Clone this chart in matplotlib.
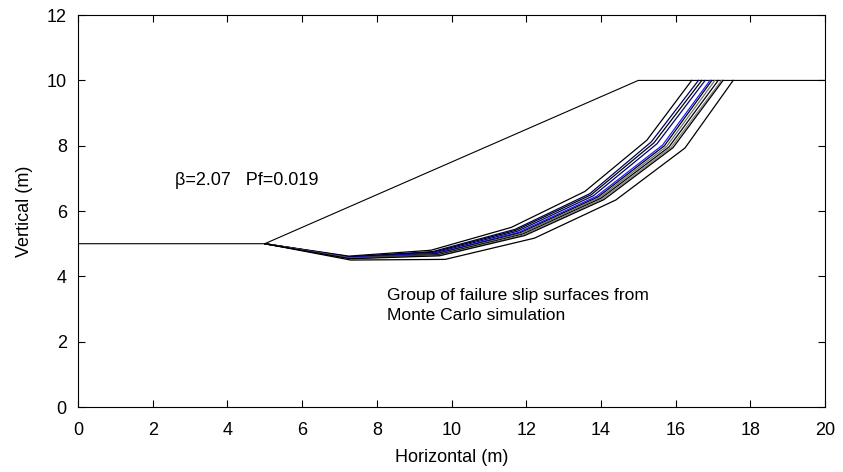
import numpy as np
import matplotlib
matplotlib.use("Agg")
from matplotlib import pyplot as plt

plt.rcParams['font.family'] = ['Liberation Sans', 'DejaVu Sans']

# slope ground profile
ground_x = [0, 5, 15, 20]
ground_y = [5, 5, 10, 10]

# slip surfaces (x, y vertices), top of group first
slip_x = [
    [5, 7.25, 9.45, 11.60, 13.57, 15.23, 16.43],
    [5, 7.27, 9.50, 11.70, 13.70, 15.35, 16.61],
    [5, 7.27, 9.52, 11.72, 13.74, 15.42, 16.70],
    [5, 7.28, 9.55, 11.76, 13.80, 15.50, 16.79],
    [5, 7.28, 9.58, 11.80, 13.88, 15.65, 16.92],
    [5, 7.28, 9.60, 11.83, 13.92, 15.70, 16.97],
    [5, 7.29, 9.62, 11.86, 13.96, 15.76, 17.05],
    [5, 7.29, 9.64, 11.90, 14.00, 15.82, 17.14],
    [5, 7.30, 9.66, 11.93, 14.04, 15.88, 17.23],
    [5, 7.30, 9.68, 11.96, 14.08, 15.93, 17.27],
    [5, 7.30, 9.83, 12.22, 14.40, 16.25, 17.54],
]
slip_y = [
    [5, 4.62, 4.80, 5.50, 6.60, 8.17, 10],
    [5, 4.60, 4.76, 5.44, 6.53, 8.12, 10],
    [5, 4.59, 4.74, 5.41, 6.50, 8.09, 10],
    [5, 4.58, 4.72, 5.38, 6.47, 8.06, 10],
    [5, 4.57, 4.70, 5.35, 6.45, 8.02, 10],
    [5, 4.56, 4.69, 5.33, 6.43, 8.00, 10],
    [5, 4.56, 4.67, 5.31, 6.41, 7.98, 10],
    [5, 4.55, 4.66, 5.29, 6.39, 7.96, 10],
    [5, 4.55, 4.64, 5.27, 6.37, 7.95, 10],
    [5, 4.54, 4.63, 5.25, 6.35, 7.94, 10],
    [5, 4.50, 4.52, 5.17, 6.34, 7.93, 10],
]
slip_colors = ['black', '#000060', 'black', '#000080', '#2020ff', 'black',
               '#707070', 'black', '#808080', 'black', 'black']

fig = plt.figure(figsize=(8.43, 4.72), dpi=100)
ax = fig.add_axes([0.0925, 0.1377, 0.8862, 0.8303])

ax.plot(ground_x, ground_y, color='black', lw=0.8)
for xs, ys, c in zip(slip_x, slip_y, slip_colors):
    ax.plot(xs, ys, color=c, lw=0.9)

ax.text(2.6, 6.95, "β=2.07   Pf=0.019", fontsize=13, va='center')
ax.text(8.27, 3.1, "Group of failure slip surfaces from\nMonte Carlo simulation",
        fontsize=12.5, va='center', linespacing=1.45)

ax.set_xlim(0, 20)
ax.set_ylim(0, 12)
ax.set_xticks(np.arange(0, 21, 2))
ax.set_yticks(np.arange(0, 13, 2))
ax.tick_params(direction='in', top=True, right=True, length=5, labelsize=13)
ax.tick_params(axis='x', pad=11)
ax.tick_params(axis='y', pad=8)
ax.set_xlabel("Horizontal (m)", fontsize=13, labelpad=7)
ax.set_ylabel("Vertical (m)", fontsize=13, labelpad=10)

fig.savefig("out.png", dpi=100)
